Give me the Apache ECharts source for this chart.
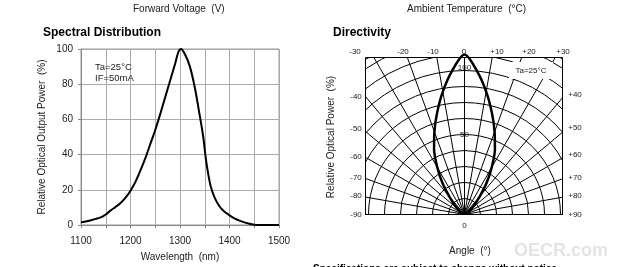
<!DOCTYPE html>
<html>
<head>
<meta charset="utf-8">
<script src="https://cdn.jsdelivr.net/npm/echarts@6/dist/echarts.min.js"></script>
<style>
html, body { margin: 0; padding: 0; background: #fff; }
#main { width: 617px; height: 267px; }
</style>
</head>
<body>
<div id="main"></div>
<script>
// spectral distribution (nm, %)
var wavelength = [1100, 1120, 1140, 1150, 1160, 1170, 1180, 1190, 1200, 1210, 1220, 1230, 1240, 1250, 1260, 1270, 1280, 1290, 1297, 1302, 1310, 1320, 1330, 1340, 1347, 1352, 1357, 1362, 1370, 1380, 1390, 1400, 1410, 1420, 1430, 1440, 1450, 1460, 1480, 1500];
var relPower = [1.5, 2.7, 4.3, 6.0, 8.3, 10.3, 12.5, 15.5, 19.5, 24.5, 31, 38, 46, 54, 63, 72.5, 82, 91.5, 98.5, 100, 97, 90, 78, 62, 50, 38, 29, 22, 15.5, 10.5, 7.5, 5.5, 3.8, 2.5, 1.5, 0.7, 0.2, 0, 0, 0];

// directivity (deg, %)
var angleDeg = [-90, -80, -70, -60, -50, -45, -40, -35, -30, -25, -20, -15, -10, -5, 0, 5, 10, 15, 20, 25, 30, 35, 40, 45, 50, 60, 70, 80, 90];
var intensity = [0, 0.3, 1, 2.5, 6, 9.5, 15, 24, 34, 45, 55, 66, 78, 90, 100, 90, 78, 66, 55, 45, 34, 24, 15, 9.5, 6, 2.5, 1, 0.3, 0];

// angle tick labels round the directivity frame
var topTicks = ['-30', '-20', '-10', '0', '+10', '+20', '+30'];
var leftTicks = ['-40', '-50', '-60', '-70', '-80', '-90'];
var rightTicks = ['+40', '+50', '+60', '+70', '+80', '+90'];
var radialTicks = ['100', '50', '0'];

// where those labels sit (px)
var topTickX = [355, 403, 433, 464, 497, 529, 563];
var leftTickY = [97, 129, 157, 178, 196, 215];
var rightTickY = [94.5, 128, 154.5, 178, 196, 215];
var radialTickY = [67.5, 135, 226];

var FONT = '"Liberation Sans", Arial, sans-serif';
var TXT = '#222';

var chart = echarts.init(document.getElementById('main'));

function label(text, x, y, size, opts) {
  opts = opts || {};
  return {
    type: 'text', x: x, y: y, z: 20, rotation: opts.rotation || 0,
    style: {
      text: text,
      fill: opts.color || TXT,
      font: (opts.weight || 'normal') + ' ' + size + 'px ' + FONT,
      align: opts.align || 'center', textAlign: opts.align || 'center',
      verticalAlign: opts.valign || 'middle', textVerticalAlign: opts.valign || 'middle'
    }
  };
}

var g = [];
// white masks that trim the polar grid to its frame
[[280, 0, 85, 267], [563, 0, 54, 267], [365, 0, 199, 57], [365, 215, 199, 52]].forEach(function (r) {
  g.push({ type: 'rect', z: 5, shape: { x: r[0], y: r[1], width: r[2], height: r[3] }, style: { fill: '#fff' } });
});
// blank patch behind the Ta note
g.push({ type: 'rect', z: 15, shape: { x: 509, y: 62, width: 44, height: 17 }, style: { fill: '#fff' } });
g.push({ type: 'rect', z: 20, shape: { x: 365.5, y: 57.5, width: 197, height: 157 }, style: { fill: null, stroke: '#000', lineWidth: 1 } });

topTicks.forEach(function (t, i) { g.push(label(t, topTickX[i], 51.5, 8)); });
leftTicks.forEach(function (t, i) { g.push(label(t, 356, leftTickY[i], 8)); });
rightTicks.forEach(function (t, i) { g.push(label(t, 575, rightTickY[i], 8)); });
radialTicks.forEach(function (t, i) { g.push(label(t, 464.5, radialTickY[i], 8)); });

g.push(label('Ta=25°C', 95, 67.5, 9.5, { align: 'left' }));
g.push(label('IF=50mA', 95, 78, 9.5, { align: 'left' }));
g.push(label('Ta=25°C', 531, 71, 8));
g.push(label('Relative Optical Power  (%)', 331, 137, 10, { rotation: Math.PI / 2 }));
g.push(label('Angle  (°)', 470, 251, 10));
g.push(label('OECR.com', 561, 251.5, 18, { weight: 'bold', color: '#e4e4e4' }));
g.push(label('Specifications are subject to change without notice.', 313, 264.5, 10, { weight: 'bold', color: '#000', align: 'left', valign: 'top' }));

var option = {
  animation: false,
  title: [
    { text: 'Spectral Distribution', left: 43, top: 27, padding: 0, textStyle: { fontFamily: FONT, fontSize: 12, fontWeight: 'bold', color: '#000' } },
    { text: 'Directivity', left: 333, top: 27, padding: 0, textStyle: { fontFamily: FONT, fontSize: 12, fontWeight: 'bold', color: '#000' } },
    { text: 'Forward Voltage  (V)', left: 133, top: 4, padding: 0, textStyle: { fontFamily: FONT, fontSize: 10, fontWeight: 'normal', color: TXT } },
    { text: 'Ambient Temperature  (°C)', left: 407, top: 4, padding: 0, textStyle: { fontFamily: FONT, fontSize: 10, fontWeight: 'normal', color: TXT } }
  ],
  grid: { left: 81, top: 49, width: 198, height: 179, show: true, borderColor: '#999', borderWidth: 1, z: 10 },
  xAxis: {
    type: 'value', min: 1100, max: 1500, interval: 50, z: 10,
    name: 'Wavelength  (nm)', nameLocation: 'middle', nameGap: 27,
    nameTextStyle: { fontFamily: FONT, fontSize: 10, color: TXT },
    axisLine: { lineStyle: { color: '#888' } },
    axisTick: { show: true, length: 3, lineStyle: { color: '#888' } },
    axisLabel: { margin: 11, fontFamily: FONT, fontSize: 10, color: TXT, formatter: function (v) { return v % 100 === 0 ? String(v) : ''; } },
    splitLine: { show: true, lineStyle: { color: '#aaa' } }
  },
  yAxis: {
    type: 'value', min: 0, max: 100, interval: 20, z: 10,
    name: 'Relative Optical Output Power  (%)', nameLocation: 'middle', nameGap: 34,
    nameTextStyle: { fontFamily: FONT, fontSize: 10, color: TXT },
    axisLine: { show: true, lineStyle: { color: '#888' } },
    axisTick: { show: true, length: 3, lineStyle: { color: '#888' } },
    axisLabel: { margin: 8, fontFamily: FONT, fontSize: 10, color: TXT },
    splitLine: { show: true, lineStyle: { color: '#aaa' } }
  },
  polar: { center: [464.5, 214.5], radius: 184 },
  angleAxis: {
    type: 'value', min: -90, max: 90, interval: 10, startAngle: 180, endAngle: 0, clockwise: true,
    axisLine: { show: false }, axisTick: { show: false }, axisLabel: { show: false },
    splitLine: { show: true, lineStyle: { color: '#000', width: 1 } }
  },
  radiusAxis: {
    type: 'value', min: 0, max: 115, interval: 10,
    axisLine: { show: false }, axisTick: { show: false }, axisLabel: { show: false },
    splitLine: { show: true, lineStyle: { color: '#000', width: 1 } }
  },
  series: [
    {
      type: 'line', xAxisIndex: 0, yAxisIndex: 0, z: 10,
      data: wavelength.map(function (w, i) { return [w, relPower[i]]; }),
      smooth: 0.3, showSymbol: false,
      lineStyle: { color: '#000', width: 2 }
    },
    {
      type: 'line', coordinateSystem: 'polar', polarIndex: 0, z: 10,
      data: angleDeg.map(function (a, i) { return [intensity[i], a]; }),
      smooth: 0.3, showSymbol: false,
      lineStyle: { color: '#000', width: 2.5 }
    }
  ],
  graphic: { elements: g }
};
chart.setOption(option);
</script>
</body>
</html>
